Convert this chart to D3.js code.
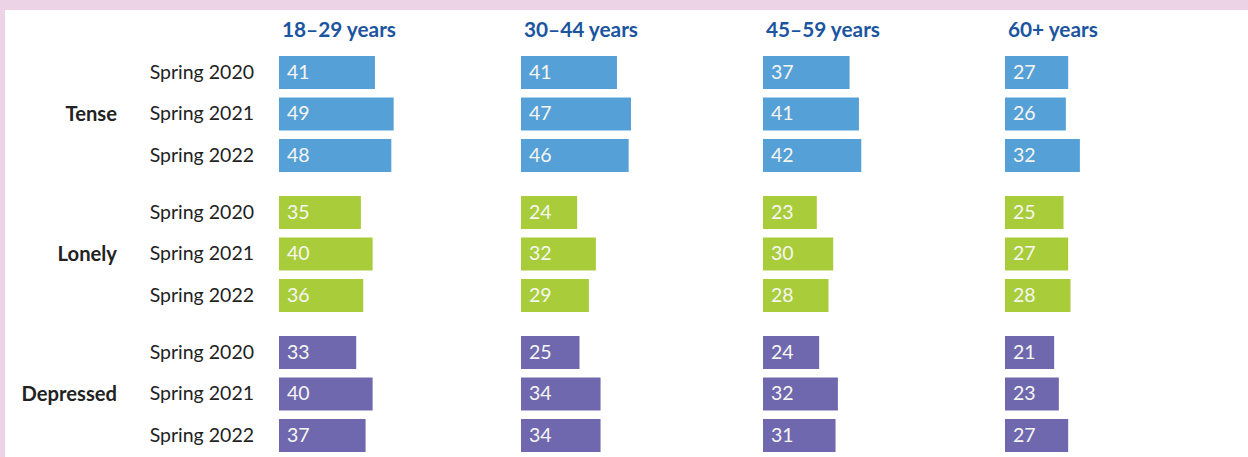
<!DOCTYPE html>
<html>
<head>
<meta charset="utf-8">
<script src="https://cdn.jsdelivr.net/npm/d3@7"></script>
<style>
  html, body { margin: 0; padding: 0; background: #ecd3e5; }
  svg { display: block; }
</style>
</head>
<body>
<svg id="chart" width="1248" height="457"></svg>
<script>
// Share of people reporting each feeling, by age group and survey wave (%)
const ageGroups = ["18–29 years", "30–44 years", "45–59 years", "60+ years"];
const feelings = ["Tense", "Lonely", "Depressed"];
const waves = ["Spring 2020", "Spring 2021", "Spring 2022"];

// values[feeling][wave] -> one number per age group
const tense = [
  [41, 41, 37, 27],
  [49, 47, 41, 26],
  [48, 46, 42, 32]
];
const lonely = [
  [35, 24, 23, 25],
  [40, 32, 30, 27],
  [36, 29, 28, 28]
];
const depressed = [
  [33, 25, 24, 21],
  [40, 34, 32, 23],
  [37, 34, 31, 27]
];
const feelingColors = ["#55a0d7", "#a9cd3a", "#6f68ae"];

const seriesByFeeling = [tense, lonely, depressed];

const svg = d3.select("#chart");
const font = "Lato, 'Noto Sans', sans-serif";

// white panel inside the pink frame
svg.append("rect")
  .attr("x", 5).attr("y", 10)
  .attr("width", 1243).attr("height", 447)
  .attr("fill", "#ffffff");

// column per age group
const xCol = d3.scaleBand().domain(ageGroups).range([279, 279 + 242 * 4]);
// length of a bar
const xVal = d3.scaleLinear().domain([0, 50]).range([0, 117]);
// block per feeling, row per wave inside each block
const yGroup = d3.scaleBand().domain(feelings).range([56, 56 + 140 * 3]);
const yRow = d3.scaleBand().domain(waves).range([0, 116]).paddingInner(0.205);

// column headers
svg.append("g").selectAll("text")
  .data(ageGroups)
  .join("text")
  .attr("x", d => xCol(d) + 3)
  .attr("y", 37)
  .attr("font-family", font)
  .attr("font-weight", 700)
  .attr("font-size", 20.8)
  .attr("fill", "#1b55a0")
  .text(d => d);

const rows = [];
feelings.forEach((f, fi) => {
  waves.forEach((w, wi) => {
    ageGroups.forEach((a, ai) => {
      rows.push({ feeling: f, wave: w, age: a, value: seriesByFeeling[fi][wi][ai], color: feelingColors[fi] });
    });
  });
});

// feeling labels, centred on the middle wave
svg.append("g").selectAll("text")
  .data(feelings)
  .join("text")
  .attr("x", 117)
  .attr("y", d => yGroup(d) + yRow(waves[1]) + yRow.bandwidth() / 2)
  .attr("dy", "0.33em")
  .attr("text-anchor", "end")
  .attr("font-family", font)
  .attr("font-weight", 700)
  .attr("font-size", 20.2)
  .attr("fill", "#222222")
  .text(d => d);

// wave labels
const waveLabels = [];
feelings.forEach(f => waves.forEach(w => waveLabels.push({ f, w })));
svg.append("g").selectAll("text")
  .data(waveLabels)
  .join("text")
  .attr("x", 254)
  .attr("y", d => yGroup(d.f) + yRow(d.w) + yRow.bandwidth() / 2)
  .attr("dy", "0.33em")
  .attr("text-anchor", "end")
  .attr("font-family", font)
  .attr("font-size", 19.5)
  .attr("fill", "#222222")
  .text(d => d.w);

// bars
const bars = svg.append("g").selectAll("g")
  .data(rows)
  .join("g")
  .attr("transform", d => `translate(${xCol(d.age)},${yGroup(d.feeling) + yRow(d.wave)})`);

bars.append("rect")
  .attr("x", 0).attr("y", 0)
  .attr("width", d => xVal(d.value))
  .attr("height", yRow.bandwidth())
  .attr("fill", d => d.color);

bars.append("text")
  .attr("x", 8)
  .attr("y", yRow.bandwidth() / 2)
  .attr("dy", "0.33em")
  .attr("font-family", font)
  .attr("font-size", 19.5)
  .attr("fill", "#f6f6f2")
  .text(d => d.value);
</script>
</body>
</html>
